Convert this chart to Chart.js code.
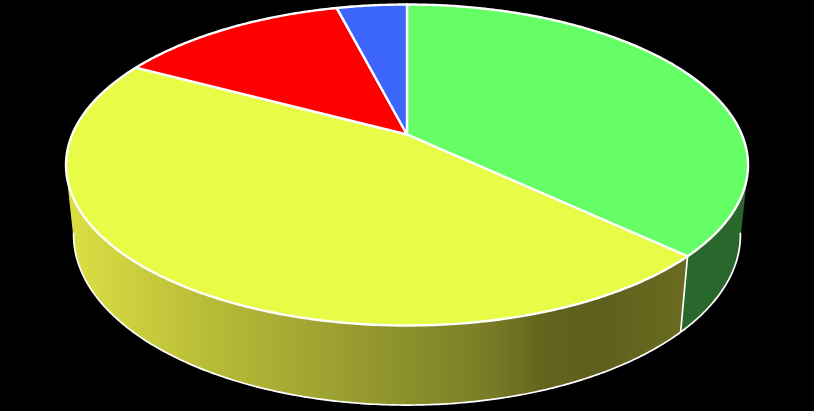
<!DOCTYPE html>
<html>
<head>
<meta charset="utf-8">
<script src="https://cdn.jsdelivr.net/npm/chart.js@4"></script>
<style>
  html, body { margin: 0; padding: 0; background: #000; overflow: hidden; }
  canvas { display: block; }
</style>
</head>
<body>
<canvas id="pie" width="814" height="411"></canvas>
<script>
const categories = ['Green', 'Yellow', 'Red', 'Blue'];
const values = [37, 45.8, 13.2, 4];
const topColors = ['#66fe66', '#e8fc47', '#ff0000', '#3c65fb'];
const sideColors = ['#28682c', null, '#800000', '#1f3380'];

// horizontal shading of the front wall of the yellow slice
const yellowSideStops = [
  [0, '#dbe043'], [0.2, '#bdc038'], [0.45, '#9a9e2f'],
  [0.68, '#7a7d26'], [0.78, '#62631d'], [0.86, '#5e5f1c'], [1, '#6a6b20']
];

// Perspective used to lay the pie down, fitted to the reference rim
const view = { cx: 407, cy: 134.5, a: 334.8, b: 154.7, k: 0.19, m: 0.022, c: 70.4 };

// theta: clockwise from the top of the pie; h: 0 = top rim, 1 = bottom rim
function project(theta, h) {
  const u = Math.sin(theta);
  const v = -Math.cos(theta);
  const w = 1 - view.k * v + view.m * h;
  return {
    x: view.cx + view.a * u / w,
    y: view.cy + (view.b * v + view.c * h) / w
  };
}

function rimPoints(from, to, h) {
  const steps = Math.max(2, Math.ceil(Math.abs(to - from) / 0.01));
  const pts = [];
  for (let i = 0; i <= steps; i++) pts.push(project(from + (to - from) * i / steps, h));
  return pts;
}

function signedArea(q) {
  let s = 0;
  q.forEach((p, i) => {
    const n = q[(i + 1) % q.length];
    s += p.x * n.y - n.x * p.y;
  });
  return s;
}

const deg = Math.PI / 180;

const pie3d = {
  id: 'pie3d',
  beforeDatasetDraw(chart, args) {
    const ctx = chart.ctx;
    const arcs = args.meta.data;
    const slices = arcs.map((arc, i) => ({
      from: arc.startAngle + Math.PI / 2,
      to: arc.endAngle + Math.PI / 2,
      color: arc.options.backgroundColor,
      side: sideColors[i]
    }));

    ctx.save();
    ctx.lineJoin = 'round';

    // walls; every quad wound the same way so nonzero fill never cancels
    slices.forEach((s) => {
      const top = rimPoints(s.from, s.to, 0);
      const bottom = rimPoints(s.from, s.to, 1);
      ctx.beginPath();
      for (let i = 0; i < top.length - 1; i++) {
        const q = [top[i], top[i + 1], bottom[i + 1], bottom[i]];
        if (signedArea(q) < 0) q.reverse();
        ctx.moveTo(q[0].x, q[0].y);
        ctx.lineTo(q[1].x, q[1].y);
        ctx.lineTo(q[2].x, q[2].y);
        ctx.lineTo(q[3].x, q[3].y);
        ctx.closePath();
      }
      if (s.side) {
        ctx.fillStyle = s.side;
      } else {
        const g = ctx.createLinearGradient(68, 0, 682, 0);
        yellowSideStops.forEach(([o, c]) => g.addColorStop(o, c));
        ctx.fillStyle = g;
      }
      ctx.fill();
    });

    // bottom rim and wall seams, front part only
    const frontFrom = 100 * deg;
    const frontTo = 260 * deg;
    ctx.strokeStyle = '#ffffff';
    ctx.lineWidth = 1.7;
    slices.forEach((s) => {
      const a = Math.max(s.from, frontFrom);
      const b = Math.min(s.to, frontTo);
      if (a >= b) return;
      const pts = rimPoints(a, b, 1);
      ctx.beginPath();
      pts.forEach((p, i) => (i ? ctx.lineTo(p.x, p.y) : ctx.moveTo(p.x, p.y)));
      ctx.stroke();
    });
    slices.forEach((s) => {
      if (s.to > frontFrom && s.to < frontTo) {
        const p = project(s.to, 0);
        const q = project(s.to, 1);
        ctx.beginPath();
        ctx.moveTo(p.x, p.y);
        ctx.lineTo(q.x, q.y);
        ctx.stroke();
      }
    });

    // top face
    ctx.lineWidth = 2.4;
    slices.forEach((s) => {
      const pts = rimPoints(s.from, s.to, 0);
      ctx.beginPath();
      ctx.moveTo(view.cx, view.cy);
      pts.forEach((p) => ctx.lineTo(p.x, p.y));
      ctx.closePath();
      ctx.fillStyle = s.color;
      ctx.fill();
      ctx.stroke();
    });

    ctx.restore();
    return false; // replaces the flat arcs
  }
};

new Chart(document.getElementById('pie'), {
  type: 'pie',
  data: {
    labels: categories,
    datasets: [{ data: values, backgroundColor: topColors, borderWidth: 0 }]
  },
  options: {
    responsive: false,
    animation: false,
    layout: { padding: 0 },
    plugins: { legend: { display: false }, tooltip: { enabled: false } }
  },
  plugins: [pie3d]
});
</script>
</body>
</html>
